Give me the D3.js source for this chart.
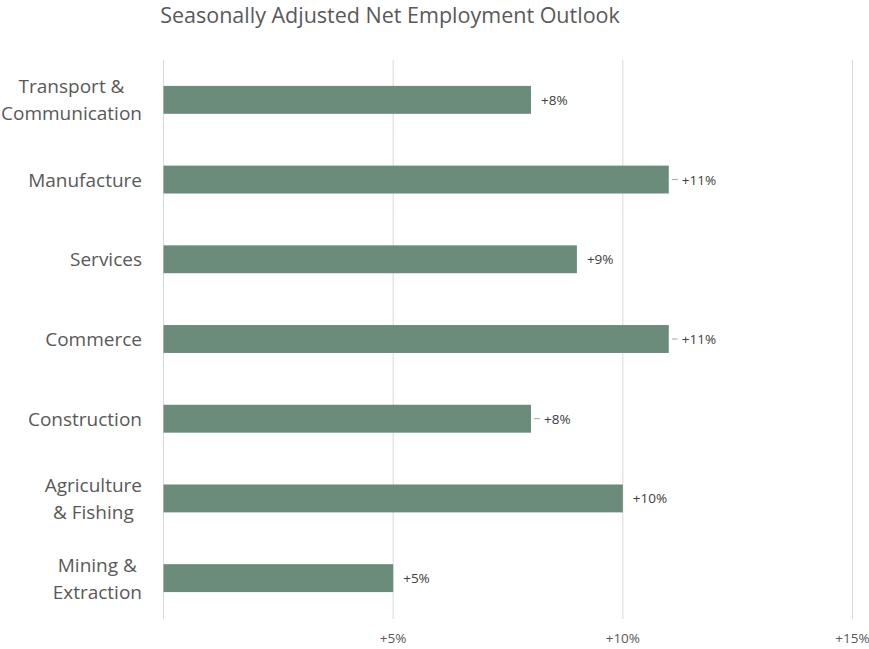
<!DOCTYPE html>
<html><head><meta charset="utf-8">
<script src="https://cdn.jsdelivr.net/npm/d3@7"></script>
<style>body{margin:0;background:#fff}svg{display:block}text{font-family:"Open Sans","Noto Sans",sans-serif}</style>
</head><body><svg id="c" width="869" height="649"></svg>
<script>
const categories = ["Transport & Communication","Manufacture","Services","Commerce","Construction","Agriculture & Fishing","Mining & Extraction"];
const labelLines = [["Transport &","Communication"],["Manufacture"],["Services"],["Commerce"],["Construction"],["Agriculture","& Fishing"],["Mining &","Extraction"]];
const values = [8,11,9,11,8,10,5];
const valueLabels = ["+8%","+11%","+9%","+11%","+8%","+10%","+5%"];
const leader = [false,true,false,true,true,false,false];
const tickValues = [5,10,15];
const tickLabels = ["+5%","+10%","+15%"];
const title = "Seasonally Adjusted Net Employment Outlook";

const svg = d3.select("#c");
const x = d3.scaleLinear().domain([0,15]).range([163.5,852.5]);
const y = d3.scaleBand().domain(categories).range([60,618]).paddingInner(0.65).paddingOuter(0.325);

svg.append("text").attr("x",390).attr("y",23).attr("text-anchor","middle")
  .attr("font-size",21.5).attr("fill","#595959").text(title);

// gridlines
svg.append("g").selectAll("line").data([0].concat(tickValues)).join("line")
  .attr("x1",d=>x(d)).attr("x2",d=>x(d)).attr("y1",60).attr("y2",619)
  .attr("stroke","#d9d9d9").attr("stroke-width",1);

// tick labels
svg.append("g").selectAll("text").data(tickValues).join("text")
  .attr("x",d=>x(d)).attr("y",643).attr("text-anchor","middle")
  .attr("font-size",13.5).attr("fill","#595959").text((d,i)=>tickLabels[i]);

// bars
svg.append("g").selectAll("rect").data(values).join("rect")
  .attr("x",x(0)).attr("y",(d,i)=>y(categories[i])).attr("height",y.bandwidth())
  .attr("width",d=>x(d)-x(0)).attr("fill","#6b8b7b");

// leaders
svg.append("g").selectAll("line").data(values.map((v,i)=>({v,i})).filter(d=>leader[d.i])).join("line")
  .attr("x1",d=>x(d.v)+3).attr("x2",d=>x(d.v)+9)
  .attr("y1",d=>y(categories[d.i])+y.bandwidth()/2).attr("y2",d=>y(categories[d.i])+y.bandwidth()/2)
  .attr("stroke","#a6a6a6").attr("stroke-width",1);

// value labels
svg.append("g").selectAll("text").data(values).join("text")
  .attr("x",(d,i)=>x(d)+(leader[i]?13:10)).attr("y",(d,i)=>y(categories[i])+y.bandwidth()/2+5)
  .attr("font-size",13.5).attr("fill","#404040").text((d,i)=>valueLabels[i]);

// category labels
const lg = svg.append("g");
categories.forEach((c,i)=>{
  const lines = labelLines[i];
  const cy = y(c)+y.bandwidth()/2;
  const lh = 27;
  const g = lg.append("g");
  const ts = lines.map((l,j)=>g.append("text").attr("font-size",19).attr("fill","#595959")
     .attr("y",cy + (j-(lines.length-1)/2)*lh + 7).text(l));
  const widths = ts.map(t=>t.node().getComputedTextLength());
  const maxW = d3.max(widths);
  const center = 142 - maxW/2;
  ts.forEach(t=>t.attr("x",center).attr("text-anchor","middle"));
});
</script></body></html>
